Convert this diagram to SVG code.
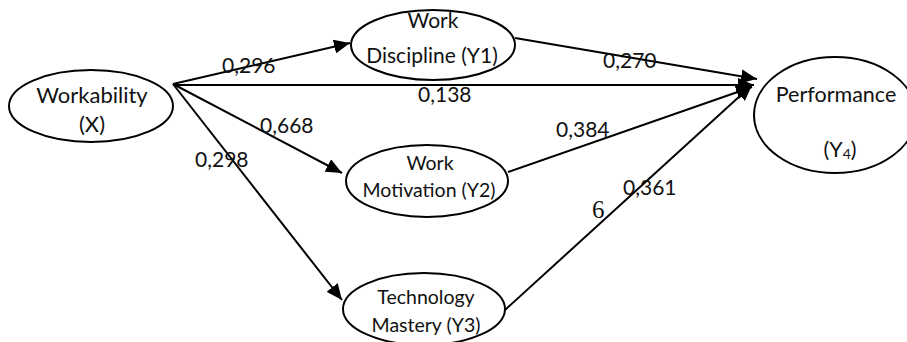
<svg xmlns="http://www.w3.org/2000/svg" width="907" height="342" viewBox="0 0 907 342">
<style>
.node ellipse{fill:#fff;stroke:#000;stroke-width:2}
text{font-family:Lato,"Open Sans","Liberation Sans",sans-serif;fill:#111}
.nt{text-anchor:middle}
.lbl{font-size:21px}
.edge{stroke:#000;stroke-width:2;fill:none;marker-end:url(#ah)}
</style>
<defs>
<marker id="ah" markerUnits="userSpaceOnUse" markerWidth="17" markerHeight="14" refX="16" refY="7" orient="auto">
<path d="M0,0 L16,7 L0,14 z" fill="#000"/>
</marker>
</defs>
<rect width="907" height="342" fill="#fff"/>
<g id="connectors">
<line class="edge" x1="173" y1="84" x2="350" y2="43"/>
<line class="edge" x1="173" y1="85" x2="754" y2="85"/>
<line class="edge" x1="173" y1="84" x2="342" y2="173"/>
<line class="edge" x1="173" y1="84" x2="342" y2="300"/>
<line class="edge" x1="515" y1="38" x2="757" y2="79"/>
<line class="edge" x1="508" y1="172" x2="752" y2="87"/>
<line class="edge" x1="505" y1="310" x2="752" y2="85"/>
</g>
<g id="labels">
<text class="lbl" x="222" y="73">0,296</text>
<text class="lbl" x="418" y="102">0,138</text>
<text class="lbl" x="260" y="133">0,668</text>
<text class="lbl" x="195" y="167">0,298</text>
<text class="lbl" x="603" y="68">0,270</text>
<text class="lbl" x="556" y="137">0,384</text>
<text class="lbl" x="623" y="195">0,361</text>
<text x="592" y="218" style="font-family:'Liberation Serif','DejaVu Serif',serif;font-size:25px">6</text>
</g>
<g id="node-x" class="node">
<ellipse cx="91" cy="106" rx="82" ry="36"/>
<text class="nt" x="92" y="103" font-size="22">Workability</text>
<text class="nt" x="92" y="132" font-size="22">(X)</text>
</g>
<g id="node-y1" class="node">
<ellipse cx="433" cy="45" rx="82" ry="35"/>
<text class="nt" x="433" y="28" font-size="21">Work</text>
<text class="nt" x="432" y="63" font-size="21">Discipline (Y1)</text>
</g>
<g id="node-y2" class="node">
<ellipse cx="427" cy="181" rx="81" ry="36"/>
<text class="nt" x="430" y="170" font-size="19.5">Work</text>
<text class="nt" x="429" y="197" font-size="19.5">Motivation (Y2)</text>
</g>
<g id="node-y3" class="node">
<ellipse cx="424" cy="309" rx="81" ry="36"/>
<text class="nt" x="426" y="304" font-size="19.5">Technology</text>
<text class="nt" x="426" y="332" font-size="19.5">Mastery (Y3)</text>
</g>
<g id="node-y4" class="node">
<ellipse cx="835" cy="115" rx="81" ry="58"/>
<text class="nt" x="836" y="102" font-size="21.5">Performance</text>
<text class="nt" x="840" y="157" font-size="21.5">(Y<tspan font-size="14" dy="2">4</tspan><tspan dy="-2">)</tspan></text>
</g>
</svg>
